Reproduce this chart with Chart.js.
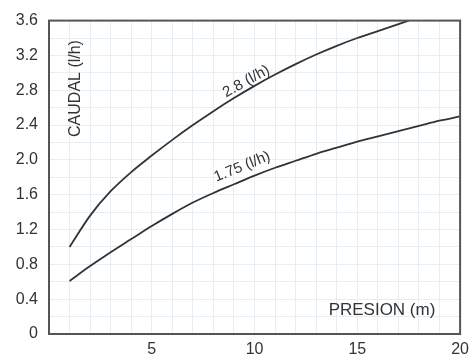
<!DOCTYPE html>
<html>
<head>
<meta charset="utf-8">
<script src="https://cdn.jsdelivr.net/npm/chart.js@4"></script>
<style>
  html, body { margin: 0; padding: 0; background: #fff; }
  #wrap { width: 475px; height: 362px; }
</style>
</head>
<body>
<div id="wrap"><canvas id="chart" width="475" height="362"></canvas></div>
<script>
// pressure (m) -> flow (l/h)
const presionAlta = [1, 2, 3, 4, 5, 6, 7, 8, 9, 10, 11, 12, 13, 14, 15, 16, 17, 17.5];
const caudalAlta = [1.0, 1.36, 1.64, 1.86, 2.05, 2.23, 2.4, 2.56, 2.71, 2.85, 2.98, 3.1, 3.21, 3.31, 3.4, 3.48, 3.56, 3.6];

const presionBaja = [1, 2, 3, 4, 5, 6, 7, 8, 9, 10, 11, 12, 13, 14, 15, 16, 17, 18, 19, 20];
const caudalBaja = [0.61, 0.78, 0.94, 1.09, 1.24, 1.38, 1.51, 1.62, 1.72, 1.82, 1.91, 1.99, 2.07, 2.14, 2.21, 2.27, 2.33, 2.39, 2.45, 2.5];

const curveLabels = ['2.8 (l/h)', '1.75 (l/h)'];
const yTicks = [0, 0.4, 0.8, 1.2, 1.6, 2.0, 2.4, 2.8, 3.2, 3.6];
const xTicks = [5, 10, 15, 20];

const ink = '#333';
const fontFam = '"Liberation Sans", Arial, sans-serif';

const toPts = (xs, ys) => xs.map((x, i) => ({ x: x, y: ys[i] }));

const textPlugin = {
  id: 'textLabels',
  beforeDraw: (chart) => {
    const { ctx } = chart;
    ctx.save();
    ctx.fillStyle = '#fff';
    ctx.fillRect(0, 0, chart.width, chart.height);
    ctx.restore();
  },
  afterDatasetsDraw: (chart) => {
    const { ctx, chartArea: a } = chart;
    const xs = chart.scales.x, ys = chart.scales.y;
    ctx.save();
    // frame
    ctx.strokeStyle = '#555';
    ctx.lineWidth = 2;
    ctx.strokeRect(a.left, a.top, a.right - a.left, a.bottom - a.top);

    ctx.fillStyle = ink;
    ctx.textAlign = 'center';
    ctx.textBaseline = 'middle';

    const put = (txt, x, y, deg, size) => {
      ctx.save();
      ctx.font = size + 'px ' + fontFam;
      ctx.translate(xs.getPixelForValue(x), ys.getPixelForValue(y));
      ctx.rotate(deg * Math.PI / 180);
      ctx.fillText(txt, 0, 0);
      ctx.restore();
    };
    put(curveLabels[0], 9.6, 2.9, -29, 15);
    put(curveLabels[1], 9.4, 1.92, -22, 15);
    put('CAUDAL (l/h)', 1.3, 2.82, -90, 16);
    put('PRESION (m)', 16.2, 0.27, 0, 17);
    ctx.restore();
  }
};

new Chart(document.getElementById('chart'), {
  type: 'line',
  data: {
    datasets: [
      {
        label: curveLabels[0],
        data: toPts(presionAlta, caudalAlta),
        borderColor: ink,
        borderWidth: 1.8,
        pointRadius: 0,
        cubicInterpolationMode: 'monotone',
        fill: false
      },
      {
        label: curveLabels[1],
        data: toPts(presionBaja, caudalBaja),
        borderColor: ink,
        borderWidth: 1.8,
        pointRadius: 0,
        cubicInterpolationMode: 'monotone',
        fill: false
      }
    ]
  },
  options: {
    responsive: false,
    animation: false,
    layout: { padding: { top: 11, right: 14, left: 0, bottom: 0 } },
    plugins: { legend: { display: false }, tooltip: { enabled: false } },
    scales: {
      x: {
        type: 'linear',
        min: 0,
        max: 20,
        afterFit: s => { s.height = 28; },
        border: { display: false },
        grid: { color: '#e6eef4', lineWidth: 1, drawTicks: false },
        ticks: {
          stepSize: 1,
          autoSkip: false,
          maxRotation: 0,
          padding: 6,
          color: ink,
          font: { family: fontFam, size: 16 },
          callback: v => xTicks.includes(v) ? String(v) : ''
        }
      },
      y: {
        min: 0,
        max: 3.6,
        afterFit: s => { s.width = 49; },
        border: { display: false },
        grid: { color: '#e6eef4', lineWidth: 1, drawTicks: false },
        ticks: {
          stepSize: 0.2,
          autoSkip: false,
          padding: 11,
          color: ink,
          font: { family: fontFam, size: 16 },
          callback: v => {
            const t = yTicks.find(k => Math.abs(k - v) < 1e-6);
            if (t === undefined) return '';
            return t === 0 ? '0' : t.toFixed(1);
          }
        }
      }
    }
  },
  plugins: [textPlugin]
});
</script>
</body>
</html>
